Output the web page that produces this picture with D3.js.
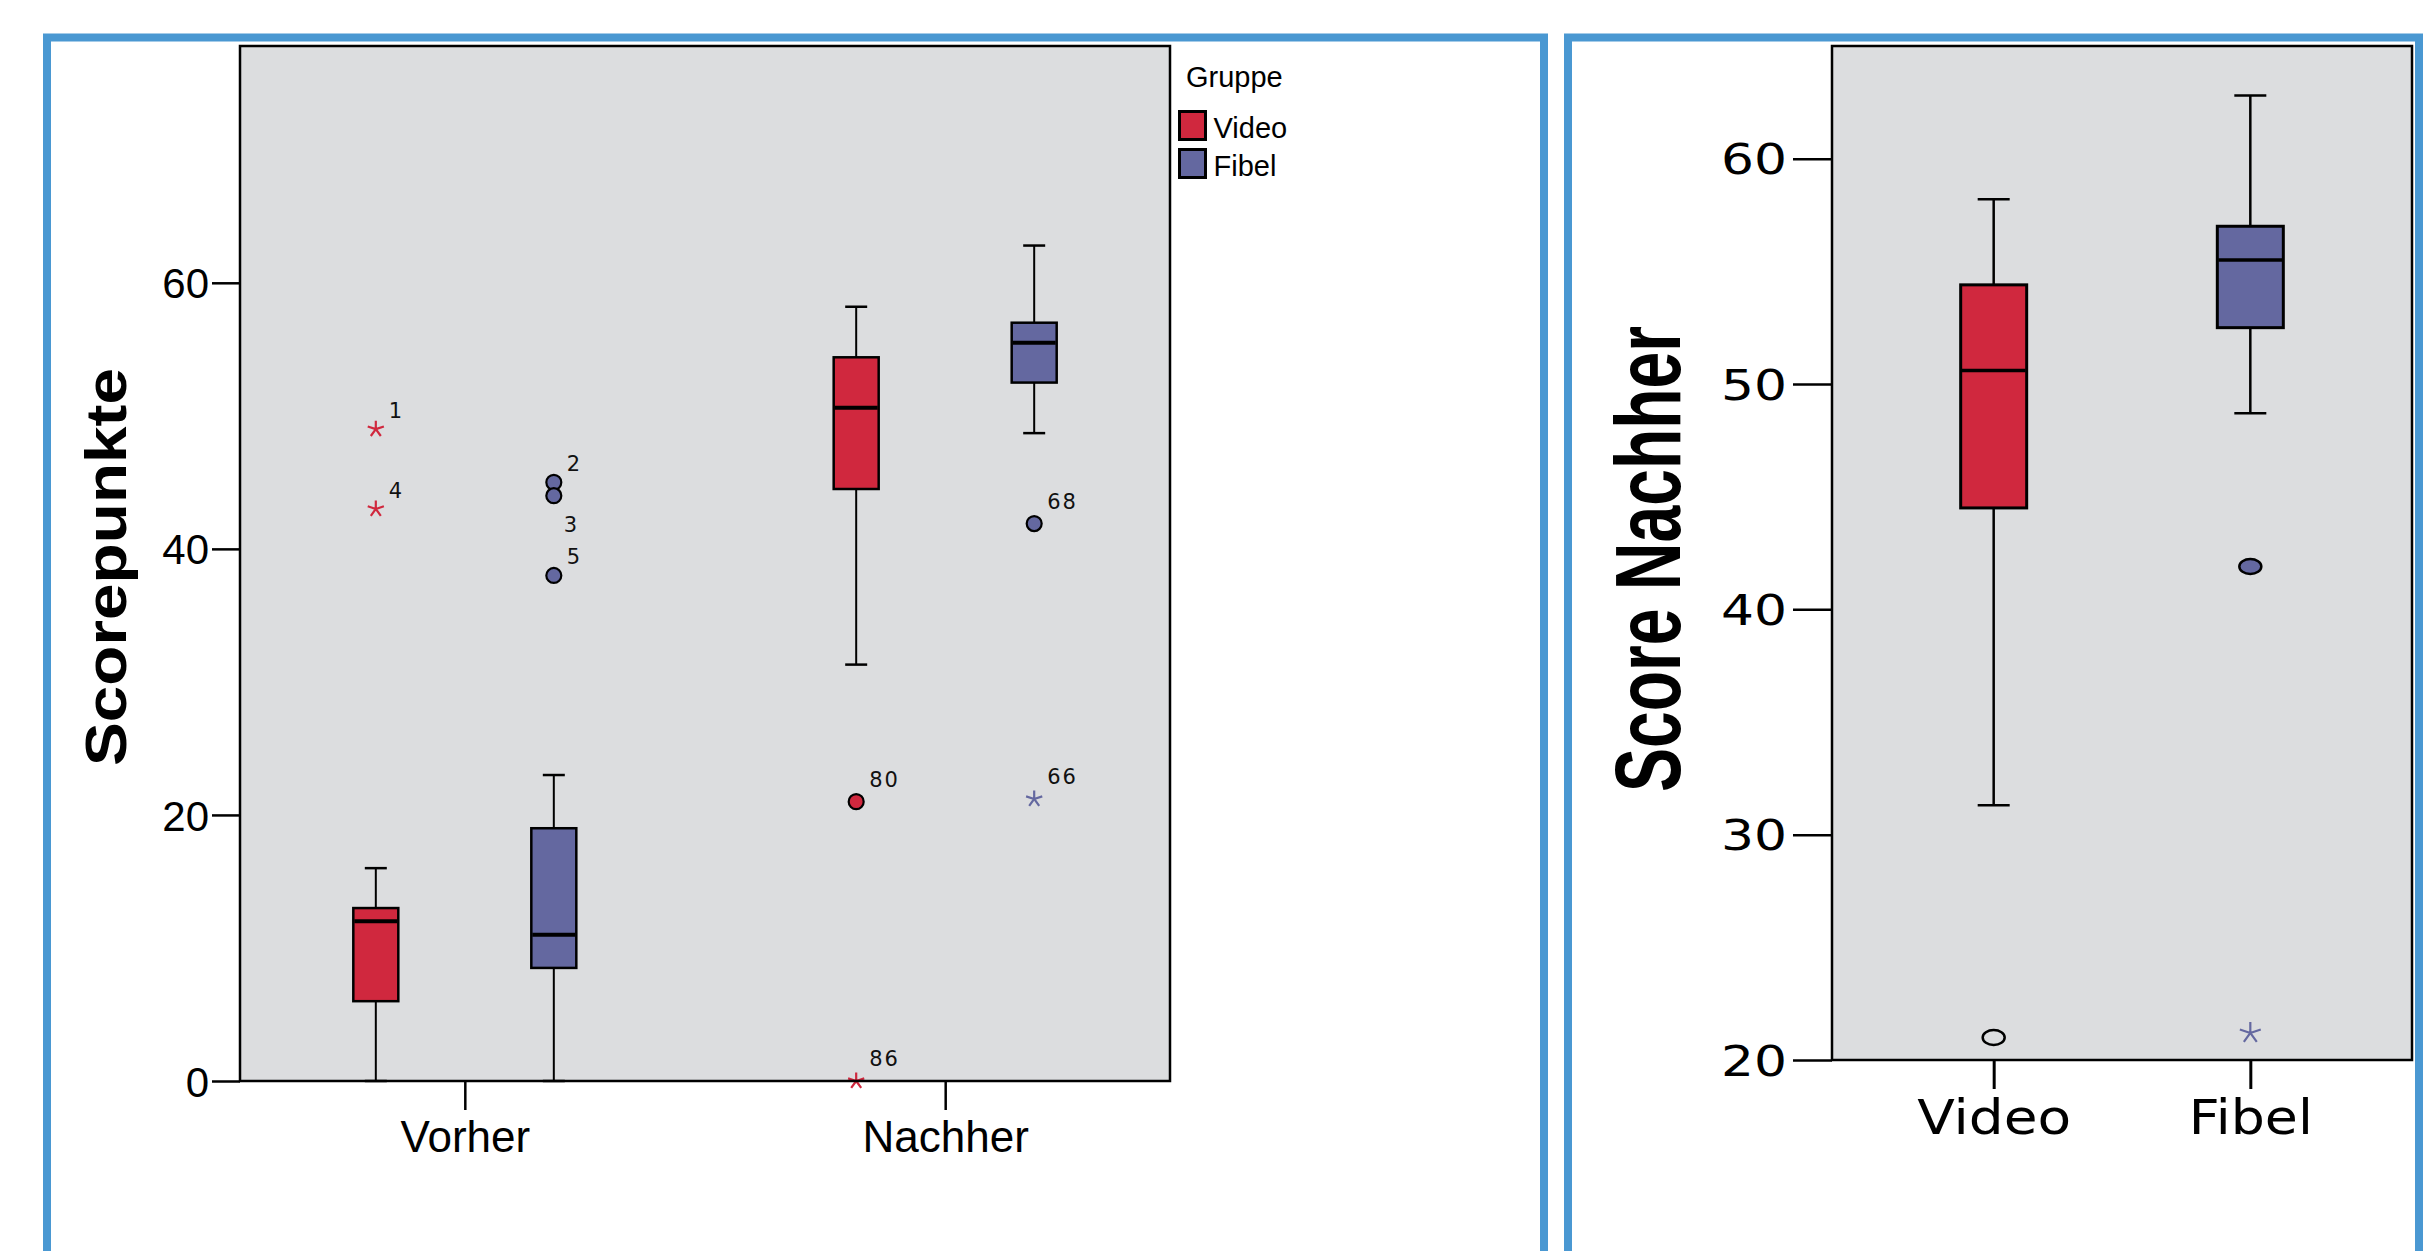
<!DOCTYPE html>
<html>
<head>
<meta charset="utf-8">
<script src="https://cdn.jsdelivr.net/npm/d3@7"></script>
<style>
  html, body { margin: 0; padding: 0; background: #ffffff; }
  svg { display: block; }
</style>
</head>
<body>
<svg id="chart" width="2435" height="1251"></svg>
<script>
// ---------------- DATA ----------------
const times = ["Vorher", "Nachher"];
const groups = ["Video", "Fibel"];
const legendTitle = "Gruppe";
const yTitleLeft = "Scorepunkte";
const yTitleRight = "Score Nachher";
const yTicksLeft = [0, 20, 40, 60];
const yTicksRight = [20, 30, 40, 50, 60];

// five-number summaries: [whisker low, Q1, median, Q3, whisker high]
const videoVorher  = [0, 6, 12, 13, 16];
const fibelVorher  = [0, 8.5, 11, 19, 23];
const videoNachher = [31.3, 44.5, 50.6, 54.4, 58.2];
const fibelNachher = [48.7, 52.5, 55.5, 57.0, 62.8];

// outliers
const outlierTime  = ["Vorher", "Vorher", "Vorher", "Vorher", "Vorher", "Nachher", "Nachher", "Nachher", "Nachher"];
const outlierGroup = ["Video", "Video", "Fibel", "Fibel", "Fibel", "Video", "Video", "Fibel", "Fibel"];
const outlierValue = [49, 43, 45, 44, 38, 21, 0, 41.9, 21.2];
const outlierCase  = ["1", "4", "2", "3", "5", "80", "86", "68", "66"];
const outlierType  = ["extreme", "extreme", "outlier", "outlier", "outlier", "outlier", "extreme", "outlier", "extreme"];

// ---------------- STYLE ----------------
const colors = { Video: "#d0283e", Fibel: "#6468a0" };
const plotBg = "#dcdddf";
const frameBlue = "#4a98d2";
const sansFont = "'Liberation Sans', Arial, sans-serif";
const labelFont = "'DejaVu Sans', Verdana, sans-serif";

const svg = d3.select("#chart");

const boxes = [];
times.forEach(t => groups.forEach(g => {
  const arr = t === "Vorher" ? (g === "Video" ? videoVorher : fibelVorher)
                             : (g === "Video" ? videoNachher : fibelNachher);
  boxes.push({ time: t, group: g, lo: arr[0], q1: arr[1], med: arr[2], q3: arr[3], hi: arr[4] });
}));
const outliers = outlierValue.map((v, i) => ({
  time: outlierTime[i], group: outlierGroup[i], value: v, label: outlierCase[i], type: outlierType[i]
}));

// panel frames
svg.append("rect").attr("x", 47).attr("y", 37.5).attr("width", 1497).attr("height", 1400)
  .attr("fill", "none").attr("stroke", frameBlue).attr("stroke-width", 8);
svg.append("rect").attr("x", 1568).attr("y", 37.5).attr("width", 851).attr("height", 1400)
  .attr("fill", "none").attr("stroke", frameBlue).attr("stroke-width", 8);

function starPath(r) {
  let d = "";
  for (let k = 0; k < 5; k++) {
    const a = (-90 + k * 72) * Math.PI / 180;
    d += `M0,0L${(r * Math.cos(a)).toFixed(2)},${(r * Math.sin(a)).toFixed(2)}`;
  }
  return d;
}

// ================= LEFT CHART =================
(function () {
  const L = { x0: 240, x1: 1170, y0: 46, y1: 1081 };
  const y = d3.scaleLinear().domain([0, 77.8]).range([L.y1, L.y0]);
  const x = d3.scalePoint().domain(times).range([L.x0, L.x1]).padding(0.468);
  const sub = d3.scalePoint().domain(groups).range([-89, 89]);
  const bw = 45, cap = 22;

  const g = svg.append("g");
  g.append("rect").attr("x", L.x0).attr("y", L.y0).attr("width", L.x1 - L.x0).attr("height", L.y1 - L.y0)
    .attr("fill", plotBg);

  const bx = d => x(d.time) + sub(d.group);
  const bg = g.selectAll("g.box").data(boxes).join("g").attr("class", "box");
  bg.append("line").attr("x1", bx).attr("x2", bx).attr("y1", d => y(d.lo)).attr("y2", d => y(d.q1))
    .attr("stroke", "#000").attr("stroke-width", 2);
  bg.append("line").attr("x1", bx).attr("x2", bx).attr("y1", d => y(d.q3)).attr("y2", d => y(d.hi))
    .attr("stroke", "#000").attr("stroke-width", 2);
  bg.append("line").attr("x1", d => bx(d) - cap / 2).attr("x2", d => bx(d) + cap / 2)
    .attr("y1", d => y(d.hi)).attr("y2", d => y(d.hi)).attr("stroke", "#000").attr("stroke-width", 2.5);
  bg.append("line").attr("x1", d => bx(d) - cap / 2).attr("x2", d => bx(d) + cap / 2)
    .attr("y1", d => y(d.lo)).attr("y2", d => y(d.lo)).attr("stroke", "#000").attr("stroke-width", 2.5);
  bg.append("rect").attr("x", d => bx(d) - bw / 2).attr("width", bw)
    .attr("y", d => y(d.q3)).attr("height", d => y(d.q1) - y(d.q3))
    .attr("fill", d => colors[d.group]).attr("stroke", "#000").attr("stroke-width", 2.5);
  bg.append("line").attr("x1", d => bx(d) - bw / 2 + 1).attr("x2", d => bx(d) + bw / 2 - 1)
    .attr("y1", d => y(d.med)).attr("y2", d => y(d.med)).attr("stroke", "#000").attr("stroke-width", 4);

  // outliers
  const og = g.selectAll("g.out").data(outliers).join("g").attr("class", "out")
    .attr("transform", d => `translate(${bx(d)},${y(d.value)})`);
  og.filter(d => d.type === "outlier").append("circle").attr("r", 7.5)
    .attr("fill", d => colors[d.group]).attr("stroke", "#000").attr("stroke-width", 2.2);
  og.filter(d => d.type === "extreme").append("path").attr("d", starPath(8.5))
    .attr("fill", "none").attr("stroke", d => colors[d.group]).attr("stroke-width", 2.2);
  // label placement: below if another outlier of the same box sits just above
  og.append("text")
    .attr("x", d => {
      const below = outliers.some(o => o !== d && o.time === d.time && o.group === d.group && o.value > d.value && o.value - d.value < 2);
      return below ? 10 : 13;
    })
    .attr("y", d => {
      const below = outliers.some(o => o !== d && o.time === d.time && o.group === d.group && o.value > d.value && o.value - d.value < 2);
      return below ? 36 : (d.label.length > 1 ? -15 : -11);
    })
    .attr("font-family", labelFont).attr("font-size", 21).attr("letter-spacing", 2)
    .attr("fill", "#111").text(d => d.label);

  // axes
  const ya = g.append("g").attr("transform", `translate(${L.x0},0)`)
    .call(d3.axisLeft(y).tickValues(yTicksLeft).tickSize(28).tickPadding(3).tickFormat(d3.format("d")));
  ya.select(".domain").remove();
  ya.selectAll(".tick line").attr("stroke", "#000").attr("stroke-width", 2.5);
  ya.selectAll(".tick text").attr("font-family", sansFont).attr("font-size", 42).attr("fill", "#000")
    .attr("dy", "0.36em");

  const xa = g.append("g").attr("transform", `translate(0,${L.y1})`)
    .call(d3.axisBottom(x).tickSize(29));
  xa.select(".domain").remove();
  xa.selectAll(".tick line").attr("stroke", "#000").attr("stroke-width", 2.5);
  xa.selectAll(".tick text").attr("font-family", sansFont).attr("font-size", 44).attr("fill", "#000")
    .attr("y", 71).attr("dy", 0);

  // frame
  g.append("rect").attr("x", L.x0).attr("y", L.y0).attr("width", L.x1 - L.x0).attr("height", L.y1 - L.y0)
    .attr("fill", "none").attr("stroke", "#000").attr("stroke-width", 2.5);

  // y title
  g.append("text").attr("transform", `translate(126,567) rotate(-90)`)
    .attr("text-anchor", "middle").attr("font-family", sansFont).attr("font-weight", "bold")
    .attr("font-size", 58).attr("textLength", 398).attr("lengthAdjust", "spacingAndGlyphs")
    .attr("fill", "#000").text(yTitleLeft);

  // legend
  const lg = svg.append("g");
  lg.append("text").attr("x", 1186).attr("y", 87).attr("font-family", sansFont).attr("font-size", 29)
    .attr("fill", "#000").text(legendTitle);
  const li = lg.selectAll("g.li").data(groups).join("g").attr("class", "li")
    .attr("transform", (d, i) => `translate(1179.5,${111.5 + i * 38})`);
  li.append("rect").attr("width", 26).attr("height", 28).attr("fill", d => colors[d])
    .attr("stroke", "#000").attr("stroke-width", 3);
  li.append("text").attr("x", 34).attr("y", 26.5).attr("font-family", sansFont).attr("font-size", 29)
    .attr("fill", "#000").text(d => d);
})();

// ================= RIGHT CHART =================
(function () {
  const R = { x0: 1832, x1: 2412, y0: 46, y1: 1060 };
  const y = d3.scaleLinear().domain([20, 65]).range([R.y1, R.y0]);
  const x = d3.scalePoint().domain(groups).range([R.x0, R.x1]).padding(0.63);
  const bw = 66, cap = 32;
  const data = boxes.filter(d => d.time === "Nachher");
  const outs = outliers.filter(d => d.time === "Nachher" && d.value >= y.domain()[0]);

  const g = svg.append("g");
  g.append("rect").attr("x", R.x0).attr("y", R.y0).attr("width", R.x1 - R.x0).attr("height", R.y1 - R.y0)
    .attr("fill", plotBg);

  const bx = d => x(d.group);
  const bg = g.selectAll("g.box").data(data).join("g").attr("class", "box");
  bg.append("line").attr("x1", bx).attr("x2", bx).attr("y1", d => y(d.lo)).attr("y2", d => y(d.q1))
    .attr("stroke", "#000").attr("stroke-width", 2.5);
  bg.append("line").attr("x1", bx).attr("x2", bx).attr("y1", d => y(d.q3)).attr("y2", d => y(d.hi))
    .attr("stroke", "#000").attr("stroke-width", 2.5);
  bg.append("line").attr("x1", d => bx(d) - cap / 2).attr("x2", d => bx(d) + cap / 2)
    .attr("y1", d => y(d.hi)).attr("y2", d => y(d.hi)).attr("stroke", "#000").attr("stroke-width", 2.5);
  bg.append("line").attr("x1", d => bx(d) - cap / 2).attr("x2", d => bx(d) + cap / 2)
    .attr("y1", d => y(d.lo)).attr("y2", d => y(d.lo)).attr("stroke", "#000").attr("stroke-width", 2.5);
  bg.append("rect").attr("x", d => bx(d) - bw / 2).attr("width", bw)
    .attr("y", d => y(d.q3)).attr("height", d => y(d.q1) - y(d.q3))
    .attr("fill", d => colors[d.group]).attr("stroke", "#000").attr("stroke-width", 3);
  bg.append("line").attr("x1", d => bx(d) - bw / 2 + 1).attr("x2", d => bx(d) + bw / 2 - 1)
    .attr("y1", d => y(d.med)).attr("y2", d => y(d.med)).attr("stroke", "#000").attr("stroke-width", 3.5);

  const og = g.selectAll("g.out").data(outs).join("g").attr("class", "out")
    .attr("transform", d => `translate(${bx(d)},${y(d.value)})`);
  og.filter(d => d.type === "outlier").append("ellipse").attr("rx", 11).attr("ry", 7.5)
    .attr("fill", d => d.group === "Video" ? "none" : colors[d.group])
    .attr("stroke", "#000").attr("stroke-width", 2.5);
  og.filter(d => d.type === "extreme").append("path").attr("d", starPath(11))
    .attr("fill", "none").attr("stroke", d => colors[d.group]).attr("stroke-width", 2.2);

  const ya = g.append("g").attr("transform", `translate(${R.x0},0)`)
    .call(d3.axisLeft(y).tickValues(yTicksRight).tickSize(39).tickPadding(6).tickFormat(d3.format("d")));
  ya.select(".domain").remove();
  ya.selectAll(".tick line").attr("stroke", "#000").attr("stroke-width", 2.5);
  ya.selectAll(".tick text").attr("font-family", labelFont).attr("font-size", 42).attr("fill", "#000")
    .attr("dy", "0.36em").attr("textLength", 66).attr("lengthAdjust", "spacingAndGlyphs");

  const xa = g.append("g").attr("transform", `translate(0,${R.y1})`)
    .call(d3.axisBottom(x).tickSize(29));
  xa.select(".domain").remove();
  xa.selectAll(".tick line").attr("stroke", "#000").attr("stroke-width", 3);
  xa.selectAll(".tick text").attr("font-family", labelFont).attr("font-size", 48).attr("fill", "#000")
    .attr("y", 74).attr("dy", 0)
    .attr("textLength", d => d === "Video" ? 154 : 124).attr("lengthAdjust", "spacingAndGlyphs");

  g.append("rect").attr("x", R.x0).attr("y", R.y0).attr("width", R.x1 - R.x0).attr("height", R.y1 - R.y0)
    .attr("fill", "none").attr("stroke", "#000").attr("stroke-width", 2.5);

  g.append("text").attr("transform", `translate(1680,559) rotate(-90)`)
    .attr("text-anchor", "middle").attr("font-family", sansFont).attr("font-weight", "bold")
    .attr("font-size", 92).attr("textLength", 466).attr("lengthAdjust", "spacingAndGlyphs")
    .attr("fill", "#000").text(yTitleRight);
})();
</script>
</body>
</html>
